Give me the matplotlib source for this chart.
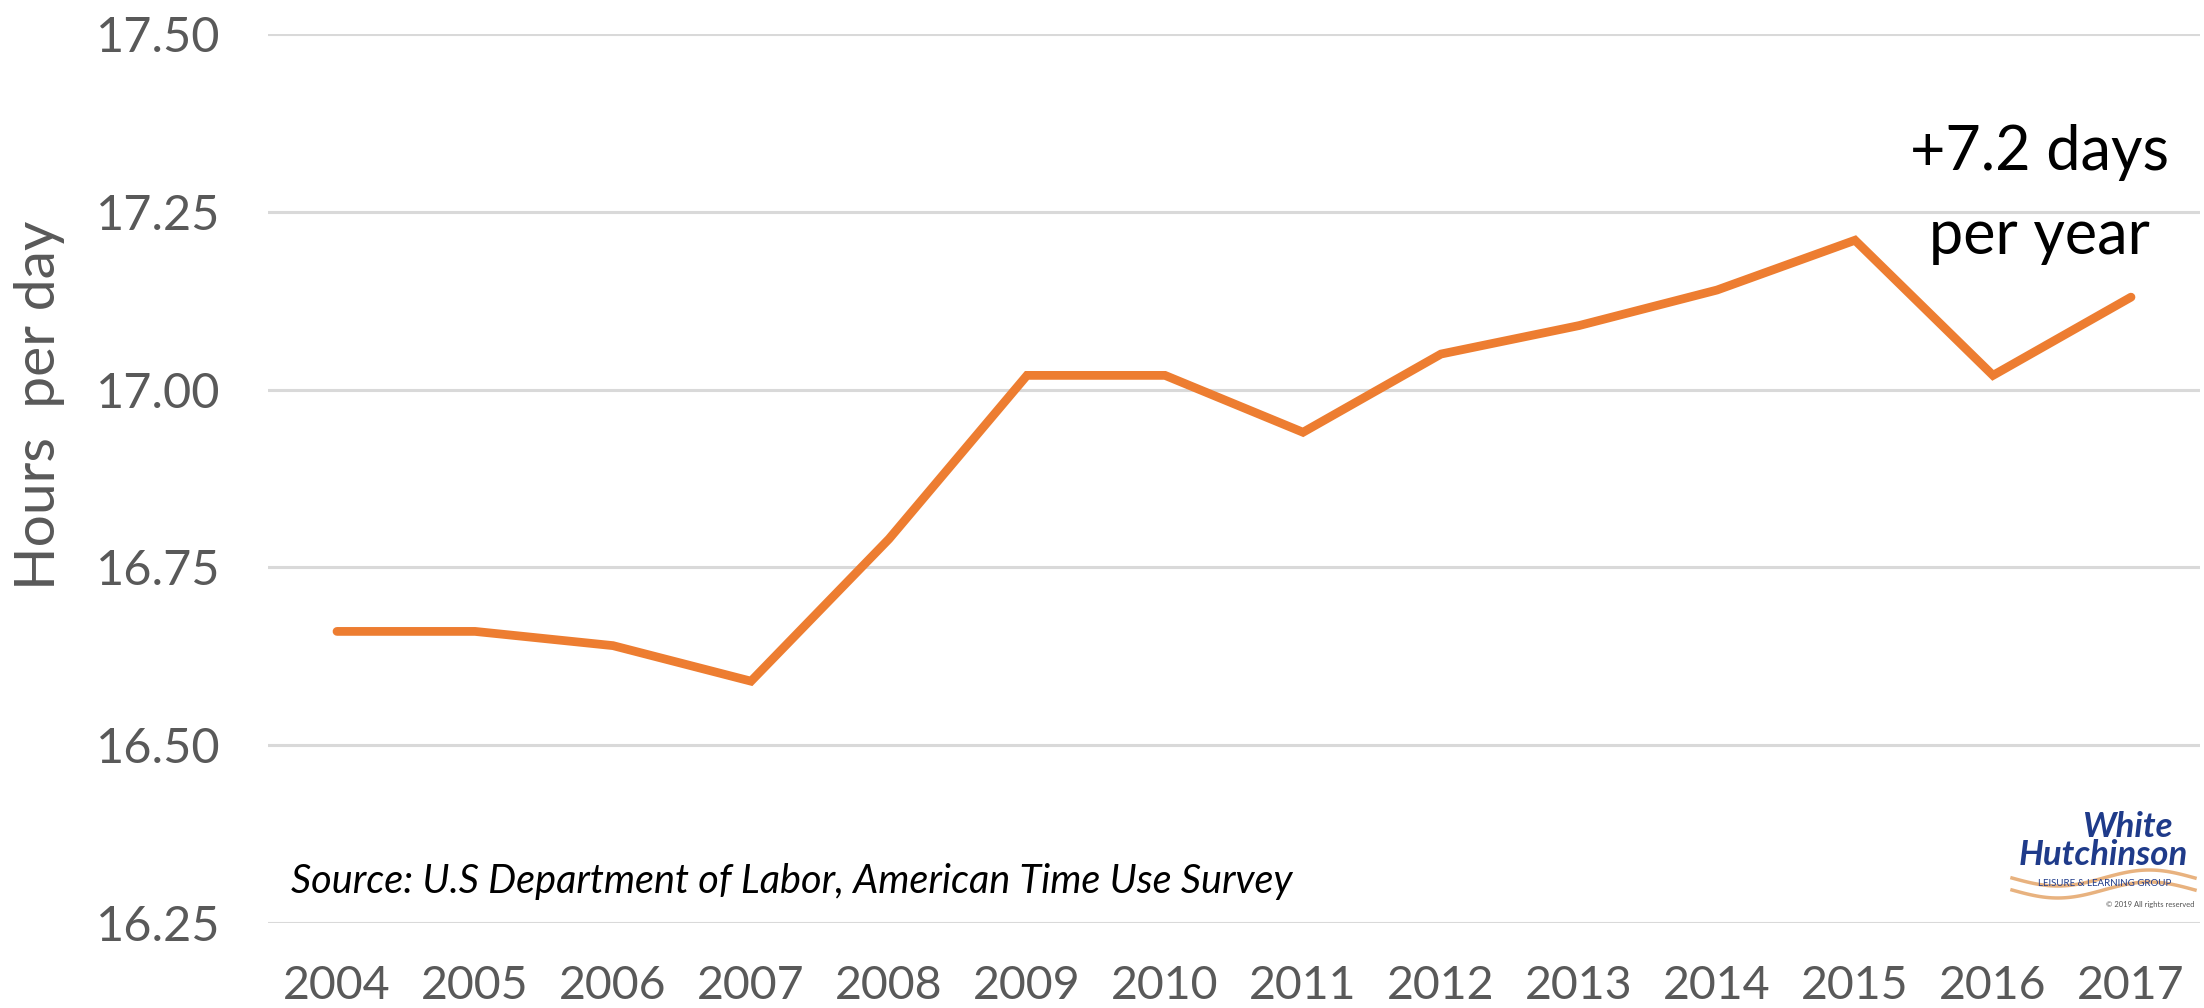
import matplotlib
matplotlib.use("Agg")
import matplotlib.pyplot as plt
import numpy as np

# hours per day, 2004-2017
years = ["2004", "2005", "2006", "2007", "2008", "2009", "2010",
         "2011", "2012", "2013", "2014", "2015", "2016", "2017"]
hours = [16.66, 16.66, 16.64, 16.59, 16.79, 17.02, 17.02,
         16.94, 17.05, 17.09, 17.14, 17.21, 17.02, 17.13]
yticks = [16.25, 16.50, 16.75, 17.00, 17.25, 17.50]

plt.rcParams['font.family'] = ['Lato', 'DejaVu Sans']

fig = plt.figure(figsize=(22.04, 10.08), dpi=100)
ax = fig.add_axes([268/2204, 1 - 923/1008, 1932/2204, 889/1008])

x = np.arange(len(years))
ax.plot(x, hours, color='#ED7D31', lw=6.3, solid_capstyle='round',
        solid_joinstyle='miter', zorder=3)

ax.set_xlim(-0.5, len(years) - 0.5)
ax.set_ylim(16.25, 17.50)
ax.set_yticks(yticks)
ax.set_yticklabels([f"{v:.2f}" for v in yticks])
ax.set_xticks(x)
ax.set_xticklabels(years)
ax.grid(axis='y', color='#d9d9d9', lw=2.2)
ax.set_axisbelow(True)
for s in ax.spines.values():
    s.set_visible(False)
ax.tick_params(axis='both', length=0, labelsize=35, colors='#595959')
ax.tick_params(axis='x', labelsize=33.5, pad=30)
ax.tick_params(axis='y', pad=34)

fig.text(40/2204, 1 - 405/1008, "Hours  per day", rotation=90, fontsize=41,
         color='#595959', ha='center', va='center')

# annotation at the right
ax.text(0.917, 1 - 170/889 + 34/889, "+7.2 days", transform=ax.transAxes,
        fontsize=44, ha='center', va='baseline', color='black')
ax.text(0.917, 1 - 254/889 + 34/889, "per year", transform=ax.transAxes,
        fontsize=44, ha='center', va='baseline', color='black')

fig.text(291/2204, 1 - 881/1008,
         "Source: U.S Department of Labor, American Time Use Survey",
         fontsize=28.5, style='italic', color='black', ha='left', va='center')

# logo
navy = '#1f3b8a'
fig.text(2127/2204, 1 - 827/1008, "White", fontsize=25, weight='bold',
         style='italic', color=navy, ha='center', va='center')
fig.text(2103/2204, 1 - 855/1008, "Hutchinson", fontsize=25, weight='bold',
         style='italic', color=navy, ha='center', va='center')
sx = np.linspace(2012, 2195, 60)
sy = 878 + 8 * np.sin((sx - 2012) / 183 * 2 * np.pi)
fig.add_artist(plt.Line2D(sx / 2204, 1 - sy / 1008, color='#e8b27f', lw=2.5))
fig.add_artist(plt.Line2D(sx / 2204, 1 - (sy + 12) / 1008, color='#e8b27f', lw=2.5))
fig.text(2105/2204, 1 - 884/1008, "LEISURE & LEARNING GROUP", fontsize=7,
         color=navy, ha='center', va='center')
fig.text(2150/2204, 1 - 904/1008, "© 2019 All rights reserved", fontsize=5.5,
         color='#555555', ha='center', va='center')

fig.savefig("out.png", dpi=100)
